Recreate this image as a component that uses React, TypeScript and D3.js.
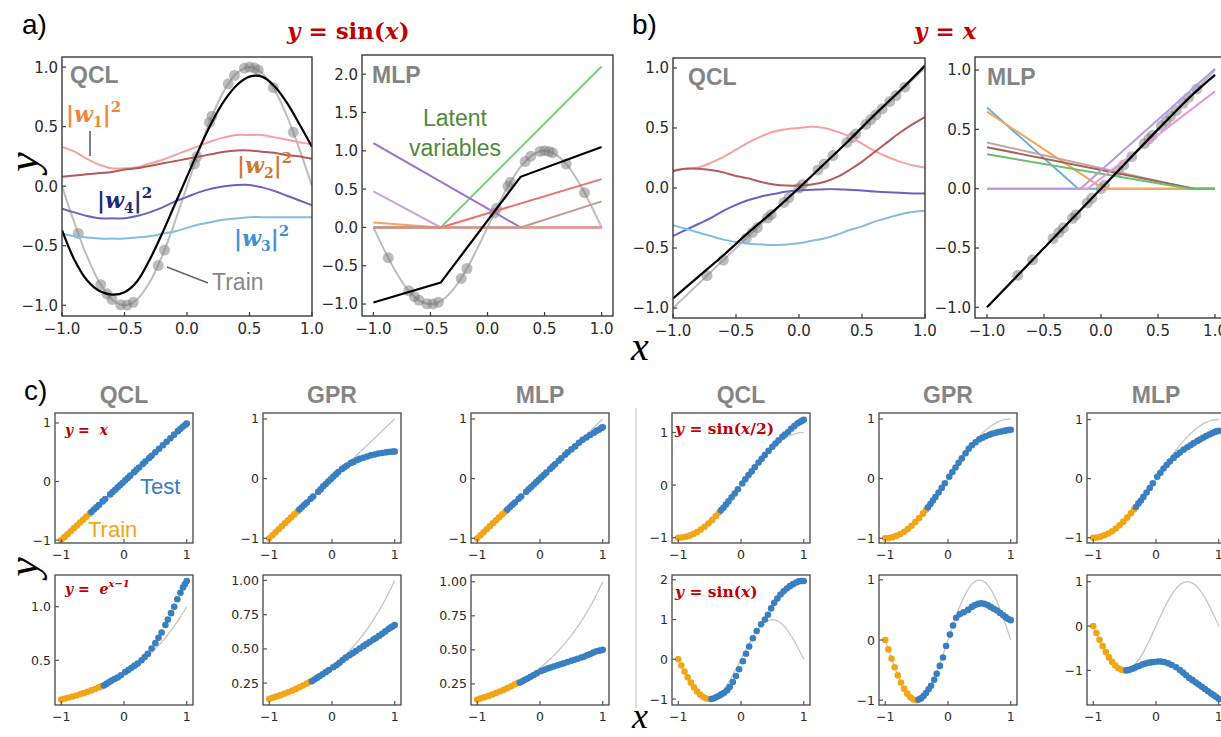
import React from "react";
import * as d3 from "d3";

// ---------- shared x grid for smooth curves ----------
const GRID = [-1, -0.9, -0.8, -0.7, -0.6, -0.5, -0.4, -0.3, -0.2, -0.1, 0, 0.1, 0.2, 0.3, 0.4, 0.5, 0.6, 0.7, 0.8, 0.9, 1];

// ---------- panel a: y = sin(x) ----------
const SIN_TRUE = [0, -0.309, -0.588, -0.809, -0.951, -1, -0.951, -0.809, -0.588, -0.309, 0, 0.309, 0.588, 0.809, 0.951, 1, 0.951, 0.809, 0.588, 0.309, 0];
const A_TRAIN_X = [-0.87, -0.69, -0.64, -0.6, -0.53, -0.48, -0.43, -0.23, -0.18, 0.06, 0.08, 0.18, 0.2, 0.33, 0.38, 0.46, 0.5, 0.54, 0.57, 0.69, 0.85];
const A_TRAIN_Y = [-0.397, -0.827, -0.904, -0.951, -0.996, -0.998, -0.975, -0.666, -0.536, 0.187, 0.249, 0.536, 0.588, 0.86, 0.93, 0.992, 1, 0.992, 0.976, 0.827, 0.454];
const A_QCL_FIT = [-0.37, -0.62, -0.79, -0.88, -0.91, -0.89, -0.8, -0.62, -0.4, -0.16, 0.08, 0.32, 0.54, 0.72, 0.85, 0.92, 0.92, 0.84, 0.7, 0.52, 0.33];
const A_QCL_W1 = [0.33, 0.29, 0.23, 0.18, 0.15, 0.15, 0.16, 0.19, 0.22, 0.26, 0.3, 0.34, 0.38, 0.41, 0.43, 0.43, 0.43, 0.41, 0.39, 0.37, 0.35];
const A_QCL_W2 = [0.08, 0.09, 0.1, 0.11, 0.12, 0.14, 0.15, 0.17, 0.19, 0.21, 0.23, 0.25, 0.27, 0.29, 0.3, 0.3, 0.29, 0.28, 0.26, 0.25, 0.23];
const A_QCL_W4 = [-0.19, -0.22, -0.25, -0.27, -0.27, -0.27, -0.25, -0.22, -0.18, -0.13, -0.09, -0.05, -0.02, 0, 0.01, 0.01, -0.01, -0.04, -0.08, -0.12, -0.16];
const A_QCL_W3 = [-0.4, -0.42, -0.43, -0.44, -0.44, -0.44, -0.43, -0.42, -0.4, -0.38, -0.35, -0.32, -0.3, -0.28, -0.27, -0.26, -0.26, -0.26, -0.26, -0.26, -0.26];

const A_MLP_FIT_X = [-1, -0.41, 0.29, 1];
const A_MLP_FIT_Y = [-0.98, -0.72, 0.66, 1.05];
const A_MLP_LATENT_X = [[-1, 1], [-1, -0.41, 1], [-1, 0.29, 1], [-1, -0.41, 1], [-1, -0.41, 1], [-1, -0.41, 1], [-1, 0.29, 1]];
const A_MLP_LATENT_Y = [[0, 0], [0, 0, 2.1], [1.1, 0, 0], [0.47, 0, 0], [0.065, 0, 0], [0, 0, 0.63], [0, 0, 0.34]];
const A_MLP_LATENT_COLORS = ["#c86a8a", "#7fcb7f", "#9b72d0", "#c8a2e6", "#f7a35c", "#ef6f6f", "#c49a92"];

// ---------- panel b: y = x ----------
const LIN_X = [-1, 1];
const LIN_Y = [-1, 1];
const B_TRAIN_X = [-0.73, -0.6, -0.42, -0.37, -0.33, -0.25, -0.22, -0.12, -0.08, 0, 0.03, 0.15, 0.2, 0.27, 0.38, 0.42, 0.45, 0.53, 0.57, 0.61, 0.66, 0.72, 0.77, 0.84];
const B_TRAIN_Y = [-0.73, -0.6, -0.42, -0.37, -0.33, -0.25, -0.22, -0.12, -0.08, 0, 0.03, 0.15, 0.2, 0.27, 0.38, 0.42, 0.45, 0.53, 0.57, 0.61, 0.66, 0.72, 0.77, 0.84];
const B_QCL_FIT_X = [-1, -0.8, -0.6, -0.4, -0.2, 0, 0.2, 0.4, 0.6, 0.8, 1];
const B_QCL_FIT_Y = [-0.92, -0.74, -0.56, -0.37, -0.19, 0, 0.2, 0.4, 0.61, 0.81, 1.02];
const B_QCL_W1 = [0.15, 0.16, 0.17, 0.21, 0.26, 0.32, 0.38, 0.43, 0.47, 0.49, 0.5, 0.51, 0.5, 0.47, 0.43, 0.37, 0.31, 0.26, 0.22, 0.19, 0.17];
const B_QCL_W2 = [0.14, 0.16, 0.16, 0.15, 0.13, 0.1, 0.08, 0.05, 0.03, 0.02, 0.02, 0.03, 0.05, 0.09, 0.15, 0.22, 0.3, 0.38, 0.46, 0.53, 0.59];
const B_QCL_W4 = [-0.4, -0.35, -0.3, -0.25, -0.19, -0.14, -0.1, -0.07, -0.05, -0.03, -0.02, -0.015, -0.01, -0.01, -0.015, -0.02, -0.03, -0.035, -0.04, -0.045, -0.045];
const B_QCL_W3 = [-0.31, -0.34, -0.37, -0.4, -0.43, -0.45, -0.465, -0.47, -0.475, -0.47, -0.46, -0.44, -0.42, -0.39, -0.35, -0.32, -0.28, -0.25, -0.22, -0.2, -0.19];

const B_MLP_FIT_X = [-1, 0, 0.5, 0.8, 1];
const B_MLP_FIT_Y = [-1, 0, 0.5, 0.79, 0.96];
const B_MLP_LATENT_X = [[-1, -0.2, 1], [-1, 0.02, 1], [-1, 0.8, 1], [-1, 0.82, 1], [-1, 0.78, 1], [-1, -0.12, 1], [-1, -0.18, 1]];
const B_MLP_LATENT_Y = [[0.685, 0, 0], [0.65, 0, 0], [0.39, 0, 0], [0.35, 0, 0], [0.29, 0, 0], [0, 0, 0.82], [0, 0, 1.01]];
const B_MLP_LATENT_COLORS = ["#6aaee0", "#f7a65a", "#c9a3a3", "#a0685a", "#6cbf6c", "#ec98d6", "#b898e8"];

// ---------- panel c: test functions ----------
const EXP_TRUE = [0.135, 0.15, 0.165, 0.183, 0.202, 0.223, 0.247, 0.273, 0.301, 0.333, 0.368, 0.407, 0.449, 0.497, 0.549, 0.607, 0.67, 0.741, 0.819, 0.905, 1.0];
const SINH_TRUE = [-1, -0.988, -0.951, -0.891, -0.809, -0.707, -0.588, -0.454, -0.309, -0.156, 0, 0.156, 0.309, 0.454, 0.588, 0.707, 0.809, 0.891, 0.951, 0.988, 1];

const TRAIN_X_LIN = [-1, -0.95, -0.9, -0.85, -0.8, -0.75, -0.7, -0.65, -0.6, -0.55];
const TRAIN_Y_LIN = [-1, -0.95, -0.9, -0.85, -0.8, -0.75, -0.7, -0.65, -0.6, -0.55];
const TEST_X_LIN = [-0.52, -0.48, -0.44, -0.4, -0.34, -0.3, -0.22, -0.18, -0.14, -0.1, -0.06, -0.02, 0.02, 0.06, 0.1, 0.16, 0.2, 0.24, 0.3, 0.34, 0.4, 0.44, 0.5, 0.56, 0.62, 0.68, 0.74, 0.8, 0.86, 0.9, 0.94, 0.98, 1.0];
const QCL_LIN = [-0.52, -0.48, -0.44, -0.4, -0.34, -0.3, -0.22, -0.18, -0.14, -0.1, -0.06, -0.02, 0.02, 0.06, 0.1, 0.16, 0.2, 0.24, 0.3, 0.34, 0.4, 0.44, 0.5, 0.56, 0.62, 0.68, 0.74, 0.8, 0.86, 0.9, 0.94, 0.97, 0.99];
const GPR_LIN = [-0.52, -0.48, -0.44, -0.4, -0.34, -0.3, -0.22, -0.18, -0.13, -0.09, -0.05, -0.01, 0.03, 0.07, 0.11, 0.16, 0.19, 0.22, 0.26, 0.28, 0.31, 0.33, 0.35, 0.37, 0.39, 0.405, 0.42, 0.43, 0.44, 0.445, 0.45, 0.455, 0.455];
const MLP_LIN = [-0.52, -0.48, -0.44, -0.4, -0.34, -0.3, -0.22, -0.18, -0.14, -0.1, -0.06, -0.02, 0.02, 0.06, 0.1, 0.16, 0.2, 0.24, 0.3, 0.34, 0.4, 0.44, 0.49, 0.54, 0.6, 0.65, 0.69, 0.73, 0.77, 0.8, 0.82, 0.85, 0.86];

const TRAIN_X_MID = [-1, -0.94, -0.88, -0.82, -0.76, -0.7, -0.64, -0.58, -0.52, -0.46, -0.4, -0.35];
const TRAIN_Y_EXP = [0.135, 0.144, 0.153, 0.162, 0.172, 0.183, 0.194, 0.206, 0.219, 0.232, 0.247, 0.259];
const TRAIN_Y_SINH = [-1, -0.996, -0.982, -0.96, -0.93, -0.891, -0.844, -0.79, -0.729, -0.661, -0.588, -0.522];
const TEST_X_MID = [-0.32, -0.28, -0.24, -0.2, -0.15, -0.1, -0.05, 0.02, 0.07, 0.12, 0.17, 0.22, 0.28, 0.33, 0.38, 0.44, 0.5, 0.55, 0.6, 0.66, 0.7, 0.75, 0.8, 0.85, 0.9, 0.94, 0.97, 1.0];
const QCL_EXP = [0.265, 0.28, 0.295, 0.31, 0.325, 0.34, 0.36, 0.39, 0.41, 0.43, 0.45, 0.47, 0.5, 0.53, 0.56, 0.61, 0.66, 0.71, 0.76, 0.83, 0.88, 0.94, 1.0, 1.07, 1.13, 1.18, 1.21, 1.24];
const GPR_EXP = [0.264, 0.276, 0.288, 0.3, 0.315, 0.33, 0.345, 0.366, 0.381, 0.398, 0.418, 0.436, 0.454, 0.469, 0.484, 0.502, 0.52, 0.535, 0.55, 0.568, 0.58, 0.595, 0.61, 0.628, 0.645, 0.657, 0.666, 0.675];
const MLP_EXP = [0.26, 0.27, 0.28, 0.29, 0.302, 0.315, 0.328, 0.344, 0.354, 0.363, 0.37, 0.378, 0.387, 0.394, 0.402, 0.411, 0.42, 0.427, 0.435, 0.444, 0.45, 0.46, 0.47, 0.48, 0.49, 0.494, 0.497, 0.5];
const QCL_SINH = [-0.48, -0.43, -0.37, -0.31, -0.23, -0.16, -0.08, 0.03, 0.11, 0.19, 0.26, 0.34, 0.43, 0.5, 0.57, 0.65, 0.73, 0.79, 0.85, 0.92, 0.96, 1.01, 1.07, 1.12, 1.17, 1.2, 1.22, 1.24];
const GPR_SINH = [-0.482, -0.426, -0.368, -0.309, -0.233, -0.156, -0.078, 0.031, 0.11, 0.187, 0.264, 0.339, 0.426, 0.5, 0.56, 0.61, 0.66, 0.685, 0.71, 0.735, 0.75, 0.765, 0.78, 0.79, 0.8, 0.81, 0.815, 0.82];
const MLP_SINH = [-0.48, -0.42, -0.37, -0.31, -0.235, -0.16, -0.08, 0.03, 0.1, 0.17, 0.23, 0.29, 0.35, 0.4, 0.44, 0.49, 0.53, 0.565, 0.6, 0.635, 0.66, 0.69, 0.72, 0.745, 0.77, 0.79, 0.8, 0.81];

const TRAIN_X_SIN = [-1, -0.95, -0.9, -0.85, -0.8, -0.75, -0.7, -0.65, -0.6, -0.55, -0.5];
const TRAIN_Y_SIN = [0, -0.156, -0.309, -0.454, -0.588, -0.707, -0.809, -0.891, -0.951, -0.988, -1];
const TEST_X_SIN = [-0.47, -0.43, -0.39, -0.35, -0.31, -0.27, -0.22, -0.18, -0.13, -0.08, -0.03, 0.03, 0.08, 0.13, 0.19, 0.25, 0.32, 0.38, 0.43, 0.48, 0.53, 0.58, 0.63, 0.68, 0.73, 0.78, 0.83, 0.88, 0.92, 0.96, 1.0];
const QCL_SIN = [-1.0, -0.98, -0.95, -0.92, -0.88, -0.84, -0.78, -0.7, -0.57, -0.42, -0.25, -0.05, 0.14, 0.32, 0.53, 0.71, 0.88, 1.0, 1.12, 1.28, 1.42, 1.53, 1.63, 1.71, 1.78, 1.84, 1.89, 1.93, 1.96, 1.97, 1.97];
const GPR_SIN = [-0.99, -0.97, -0.93, -0.88, -0.82, -0.76, -0.66, -0.56, -0.43, -0.29, -0.1, 0.09, 0.24, 0.37, 0.43, 0.46, 0.5, 0.55, 0.58, 0.6, 0.61, 0.6, 0.58, 0.55, 0.52, 0.49, 0.45, 0.41, 0.38, 0.35, 0.33];
const MLP_SIN = [-1.0, -0.99, -0.97, -0.95, -0.92, -0.9, -0.87, -0.85, -0.83, -0.82, -0.81, -0.8, -0.8, -0.81, -0.84, -0.88, -0.93, -0.99, -1.05, -1.11, -1.17, -1.22, -1.27, -1.32, -1.37, -1.42, -1.47, -1.52, -1.56, -1.6, -1.64];

const MODELS = ["QCL", "GPR", "MLP", "QCL", "GPR", "MLP"];

// ---------- styles ----------
const RED = "#c00000";
const GRAY_TXT = "#858585";
const BLUE = "#3a7fc1";
const ORANGE = "#f2a516";
const TICK_FONT = "DejaVu Sans, sans-serif";
const SANS = "Liberation Sans, Arial, sans-serif";
const SERIF = "DejaVu Serif, Liberation Serif, serif";
const SERIF_BIG = "Liberation Serif, DejaVu Serif, serif";

type Scale = d3.ScaleLinear<number, number>;

function pathOf(xs: number[], ys: number[], sx: Scale, sy: Scale, smooth = false) {
  const gen = d3.line<number>().x((v) => sx(v)).y((_, i) => sy(ys[i]));
  if (smooth) gen.curve(d3.curveCatmullRom.alpha(0.5));
  return gen(xs) ?? "";
}

interface AxesProps {
  id: string;
  left: number;
  top: number;
  width: number;
  height: number;
  xDomain: [number, number];
  yDomain: [number, number];
  xTicks: number[];
  yTicks: number[];
  xFmt: (v: number) => string;
  yFmt: (v: number) => string;
  fontSize: number;
  frame?: string;
  children: (x: Scale, y: Scale) => React.ReactNode;
}

function Axes(p: AxesProps) {
  const x = d3.scaleLinear().domain(p.xDomain).range([p.left, p.left + p.width]);
  const y = d3.scaleLinear().domain(p.yDomain).range([p.top + p.height, p.top]);
  const bottom = p.top + p.height;
  const stroke = p.frame ?? "#3a3a3a";
  return (
    <g>
      <defs>
        <clipPath id={p.id}>
          <rect x={p.left} y={p.top} width={p.width} height={p.height} />
        </clipPath>
      </defs>
      <g clipPath={`url(#${p.id})`}>{p.children(x, y)}</g>
      <rect x={p.left} y={p.top} width={p.width} height={p.height} fill="none" stroke={stroke} strokeWidth={1.4} />
      {p.yTicks.map((t) => (
        <g key={"y" + t}>
          <line x1={p.left} x2={p.left + 4} y1={y(t)} y2={y(t)} stroke={stroke} strokeWidth={1.2} />
          <text x={p.left - 4} y={y(t)} dy="0.36em" textAnchor="end" fontFamily={TICK_FONT} fontSize={p.fontSize} fill="#2a2a2a">
            {p.yFmt(t)}
          </text>
        </g>
      ))}
      {p.xTicks.map((t) => (
        <g key={"x" + t}>
          <line x1={x(t)} x2={x(t)} y1={bottom} y2={bottom - 4} stroke={stroke} strokeWidth={1.2} />
          <text x={x(t)} y={bottom + p.fontSize + 3} textAnchor="middle" fontFamily={TICK_FONT} fontSize={p.fontSize} fill="#2a2a2a">
            {p.xFmt(t)}
          </text>
        </g>
      ))}
    </g>
  );
}

function WLabel({ x, y, idx, color }: { x: number; y: number; idx: string; color: string }) {
  return (
    <text x={x} y={y} fill={color} fontFamily={SERIF} fontWeight="bold" fontSize={22}>
      |<tspan fontStyle="italic">w</tspan>
      <tspan fontSize={14} dy={5}>{idx}</tspan>
      <tspan dy={-5}>|</tspan>
      <tspan fontSize={15} dy={-10}>2</tspan>
    </text>
  );
}

function Dots({ xs, ys, sx, sy, color, r = 5.5, opacity = 1 }: { xs: number[]; ys: number[]; sx: Scale; sy: Scale; color: string; r?: number; opacity?: number }) {
  return (
    <g>
      {xs.map((v, i) => (
        <circle key={i} cx={sx(v)} cy={sy(ys[i])} r={r} fill={color} fillOpacity={opacity} />
      ))}
    </g>
  );
}

const f1 = d3.format(".1f");
const f2 = d3.format(".2f");
const fd = d3.format("d");

// layout for panel c
const C_LEFT = [55, 263, 471, 672, 879, 1087];
const C_TOP = [413, 575];
const C_W = 138;
const C_H = 130;

interface SmallSpec {
  col: number;
  row: number;
  yDomain: [number, number];
  yTicks: number[];
  yFmt: (v: number) => string;
  trueX: number[];
  trueY: number[];
  trainX: number[];
  trainY: number[];
  testX: number[];
  testY: number[];
}

const SMALL: SmallSpec[] = [
  { col: 0, row: 0, yDomain: [-1.05, 1.17], yTicks: [-1, 0, 1], yFmt: fd, trueX: LIN_X, trueY: LIN_Y, trainX: TRAIN_X_LIN, trainY: TRAIN_Y_LIN, testX: TEST_X_LIN, testY: QCL_LIN },
  { col: 1, row: 0, yDomain: [-1.08, 1.1], yTicks: [-1, 0, 1], yFmt: fd, trueX: LIN_X, trueY: LIN_Y, trainX: TRAIN_X_LIN, trainY: TRAIN_Y_LIN, testX: TEST_X_LIN, testY: GPR_LIN },
  { col: 2, row: 0, yDomain: [-1.08, 1.1], yTicks: [-1, 0, 1], yFmt: fd, trueX: LIN_X, trueY: LIN_Y, trainX: TRAIN_X_LIN, trainY: TRAIN_Y_LIN, testX: TEST_X_LIN, testY: MLP_LIN },
  { col: 0, row: 1, yDomain: [0.083, 1.296], yTicks: [0.5, 1.0], yFmt: f1, trueX: GRID, trueY: EXP_TRUE, trainX: TRAIN_X_MID, trainY: TRAIN_Y_EXP, testX: TEST_X_MID, testY: QCL_EXP },
  { col: 1, row: 1, yDomain: [0.09, 1.04], yTicks: [0.25, 0.5, 0.75, 1.0], yFmt: f2, trueX: GRID, trueY: EXP_TRUE, trainX: TRAIN_X_MID, trainY: TRAIN_Y_EXP, testX: TEST_X_MID, testY: GPR_EXP },
  { col: 2, row: 1, yDomain: [0.095, 1.05], yTicks: [0.25, 0.5, 0.75, 1.0], yFmt: f2, trueX: GRID, trueY: EXP_TRUE, trainX: TRAIN_X_MID, trainY: TRAIN_Y_EXP, testX: TEST_X_MID, testY: MLP_EXP },
  { col: 3, row: 0, yDomain: [-1.1, 1.37], yTicks: [-1, 0, 1], yFmt: fd, trueX: GRID, trueY: SINH_TRUE, trainX: TRAIN_X_MID, trainY: TRAIN_Y_SINH, testX: TEST_X_MID, testY: QCL_SINH },
  { col: 4, row: 0, yDomain: [-1.08, 1.1], yTicks: [-1, 0, 1], yFmt: fd, trueX: GRID, trueY: SINH_TRUE, trainX: TRAIN_X_MID, trainY: TRAIN_Y_SINH, testX: TEST_X_MID, testY: GPR_SINH },
  { col: 5, row: 0, yDomain: [-1.09, 1.11], yTicks: [-1, 0, 1], yFmt: fd, trueX: GRID, trueY: SINH_TRUE, trainX: TRAIN_X_MID, trainY: TRAIN_Y_SINH, testX: TEST_X_MID, testY: MLP_SINH },
  { col: 3, row: 1, yDomain: [-1.15, 2.12], yTicks: [-1, 0, 1, 2], yFmt: fd, trueX: GRID, trueY: SIN_TRUE, trainX: TRAIN_X_SIN, trainY: TRAIN_Y_SIN, testX: TEST_X_SIN, testY: QCL_SIN },
  { col: 4, row: 1, yDomain: [-1.08, 1.08], yTicks: [-1, 0, 1], yFmt: fd, trueX: GRID, trueY: SIN_TRUE, trainX: TRAIN_X_SIN, trainY: TRAIN_Y_SIN, testX: TEST_X_SIN, testY: GPR_SIN },
  { col: 5, row: 1, yDomain: [-1.78, 1.15], yTicks: [-1, 0, 1], yFmt: fd, trueX: GRID, trueY: SIN_TRUE, trainX: TRAIN_X_SIN, trainY: TRAIN_Y_SIN, testX: TEST_X_SIN, testY: MLP_SIN },
];

export default function App() {
  return (
    <svg width={1221} height={737} style={{ position: "absolute", left: 0, top: 0, background: "#fff" }}>
      {/* panel labels */}
      <text x={22} y={34} fontFamily={SANS} fontSize={28}>a)</text>
      <text x={632} y={34} fontFamily={SANS} fontSize={28}>b)</text>
      <text x={24} y={400} fontFamily={SANS} fontSize={28}>c)</text>

      <text x={287} y={39} fill={RED} fontFamily={SERIF} fontWeight="bold" fontSize={23}>
        <tspan fontStyle="italic">y</tspan> = sin(<tspan fontStyle="italic">x</tspan>)
      </text>
      <text x={914} y={39} fill={RED} fontFamily={SERIF} fontWeight="bold" fontSize={23}>
        <tspan fontStyle="italic">y</tspan> = <tspan fontStyle="italic">x</tspan>
      </text>

      <text transform="translate(38,162) rotate(-90)" textAnchor="middle" fontFamily={SERIF_BIG} fontStyle="italic" fontSize={44}>y</text>
      <text transform="translate(38,567) rotate(-90)" textAnchor="middle" fontFamily={SERIF_BIG} fontStyle="italic" fontSize={44}>y</text>
      <text x={640} y={360} textAnchor="middle" fontFamily={SERIF_BIG} fontStyle="italic" fontSize={40}>x</text>
      <text x={640} y={728} textAnchor="middle" fontFamily={SERIF_BIG} fontStyle="italic" fontSize={36}>x</text>

      {/* a) QCL */}
      <Axes id="aq" left={62} top={57} width={250} height={259} xDomain={[-1, 1]} yDomain={[-1.09, 1.085]}
        xTicks={[-1, -0.5, 0, 0.5, 1]} yTicks={[-1, -0.5, 0, 0.5, 1]} xFmt={f1} yFmt={f1} fontSize={15}>
        {(x, y) => (
          <g fill="none">
            <path d={pathOf(GRID, SIN_TRUE, x, y, true)} stroke="#bdbdbd" strokeWidth={2} />
            <Dots xs={A_TRAIN_X} ys={A_TRAIN_Y} sx={x} sy={y} color="#7a7a7a" opacity={0.5} />
            <path d={pathOf(GRID, A_QCL_W1, x, y, true)} stroke="#f6a3a0" strokeWidth={2} />
            <path d={pathOf(GRID, A_QCL_W2, x, y, true)} stroke="#b55a5a" strokeWidth={2} />
            <path d={pathOf(GRID, A_QCL_W4, x, y, true)} stroke="#6a62c4" strokeWidth={2} />
            <path d={pathOf(GRID, A_QCL_W3, x, y, true)} stroke="#82bde6" strokeWidth={2} />
            <path d={pathOf(GRID, A_QCL_FIT, x, y, true)} stroke="#000" strokeWidth={2.2} />
          </g>
        )}
      </Axes>
      <text x={70} y={83} fontFamily={SANS} fontWeight="bold" fontSize={23} fill={GRAY_TXT}>QCL</text>
      <WLabel x={66} y={122} idx="1" color="#f0853a" />
      <line x1={90} y1={131} x2={90} y2={156} stroke="#555" strokeWidth={1.5} />
      <WLabel x={237} y={173} idx="2" color="#d0782e" />
      <WLabel x={97} y={208} idx="4" color="#1c2a7a" />
      <WLabel x={234} y={246} idx="3" color="#3f8fd4" />
      <line x1={167} y1={267} x2={208} y2={283} stroke="#666" strokeWidth={1.5} />
      <text x={212} y={290} fontFamily={SANS} fontSize={23} fill="#888">Train</text>

      {/* a) MLP */}
      <Axes id="am" left={362} top={55} width={251} height={261} xDomain={[-1.1, 1.1]} yDomain={[-1.156, 2.25]}
        xTicks={[-1, -0.5, 0, 0.5, 1]} yTicks={[-1, -0.5, 0, 0.5, 1, 1.5, 2]} xFmt={f1} yFmt={f1} fontSize={15}>
        {(x, y) => (
          <g fill="none">
            <path d={pathOf(GRID, SIN_TRUE, x, y, true)} stroke="#bdbdbd" strokeWidth={2} />
            <Dots xs={A_TRAIN_X} ys={A_TRAIN_Y} sx={x} sy={y} color="#7a7a7a" opacity={0.5} />
            {A_MLP_LATENT_X.map((xs, i) => (
              <path key={i} d={pathOf(xs, A_MLP_LATENT_Y[i], x, y)} stroke={A_MLP_LATENT_COLORS[i]} strokeWidth={2} />
            ))}
            <path d={pathOf(A_MLP_FIT_X, A_MLP_FIT_Y, x, y)} stroke="#000" strokeWidth={2.2} />
          </g>
        )}
      </Axes>
      <text x={372} y={83} fontFamily={SANS} fontWeight="bold" fontSize={23} fill={GRAY_TXT}>MLP</text>
      <text x={455} y={126} textAnchor="middle" fontFamily={SANS} fontSize={23} fill="#4f8a3a">Latent</text>
      <text x={455} y={156} textAnchor="middle" fontFamily={SANS} fontSize={23} fill="#4f8a3a">variables</text>

      {/* b) QCL */}
      <Axes id="bq" left={673} top={58} width={252} height={260} xDomain={[-1, 1]} yDomain={[-1.083, 1.083]}
        xTicks={[-1, -0.5, 0, 0.5, 1]} yTicks={[-1, -0.5, 0, 0.5, 1]} xFmt={f1} yFmt={f1} fontSize={15}>
        {(x, y) => (
          <g fill="none">
            <path d={pathOf(LIN_X, LIN_Y, x, y)} stroke="#bdbdbd" strokeWidth={2} />
            <Dots xs={B_TRAIN_X} ys={B_TRAIN_Y} sx={x} sy={y} color="#7a7a7a" opacity={0.5} />
            <path d={pathOf(GRID, B_QCL_W1, x, y, true)} stroke="#f6a3a0" strokeWidth={2} />
            <path d={pathOf(GRID, B_QCL_W2, x, y, true)} stroke="#b55a5a" strokeWidth={2} />
            <path d={pathOf(GRID, B_QCL_W4, x, y, true)} stroke="#6a62c4" strokeWidth={2} />
            <path d={pathOf(GRID, B_QCL_W3, x, y, true)} stroke="#82bde6" strokeWidth={2} />
            <path d={pathOf(B_QCL_FIT_X, B_QCL_FIT_Y, x, y, true)} stroke="#000" strokeWidth={2.2} />
          </g>
        )}
      </Axes>
      <text x={688} y={85} fontFamily={SANS} fontWeight="bold" fontSize={23} fill={GRAY_TXT}>QCL</text>

      {/* b) MLP */}
      <Axes id="bm" left={975} top={57} width={252} height={261} xDomain={[-1.105, 1.105]} yDomain={[-1.09, 1.11]}
        xTicks={[-1, -0.5, 0, 0.5, 1]} yTicks={[-1, -0.5, 0, 0.5, 1]} xFmt={f1} yFmt={f1} fontSize={15}>
        {(x, y) => (
          <g fill="none">
            <path d={pathOf(LIN_X, LIN_Y, x, y)} stroke="#bdbdbd" strokeWidth={2} />
            <Dots xs={B_TRAIN_X} ys={B_TRAIN_Y} sx={x} sy={y} color="#7a7a7a" opacity={0.5} />
            {B_MLP_LATENT_X.map((xs, i) => (
              <path key={i} d={pathOf(xs, B_MLP_LATENT_Y[i], x, y)} stroke={B_MLP_LATENT_COLORS[i]} strokeWidth={2} />
            ))}
            <path d={pathOf(B_MLP_FIT_X, B_MLP_FIT_Y, x, y, true)} stroke="#000" strokeWidth={2.2} />
          </g>
        )}
      </Axes>
      <text x={987} y={85} fontFamily={SANS} fontWeight="bold" fontSize={23} fill={GRAY_TXT}>MLP</text>

      {/* c) titles */}
      {MODELS.map((m, i) => (
        <text key={i} x={C_LEFT[i] + C_W / 2} y={403} textAnchor="middle" fontFamily={SANS} fontWeight="bold" fontSize={23} fill={GRAY_TXT}>
          {m}
        </text>
      ))}
      <line x1={636} x2={636} y1={408} y2={708} stroke="#c4c4c4" strokeWidth={1.2} />

      {SMALL.map((s, i) => (
        <Axes key={i} id={"c" + i} left={C_LEFT[s.col]} top={C_TOP[s.row]} width={C_W} height={C_H}
          xDomain={[-1.1, 1.1]} yDomain={s.yDomain} xTicks={[-1, 0, 1]} yTicks={s.yTicks}
          xFmt={fd} yFmt={s.yFmt} fontSize={12.5} frame="#555">
          {(x, y) => (
            <g>
              <path d={pathOf(s.trueX, s.trueY, x, y, true)} fill="none" stroke="#c6c6c6" strokeWidth={1.3} />
              <Dots xs={s.trainX} ys={s.trainY} sx={x} sy={y} color={ORANGE} r={3.3} />
              <Dots xs={s.testX} ys={s.testY} sx={x} sy={y} color={BLUE} r={3.3} />
            </g>
          )}
        </Axes>
      ))}

      {/* c) annotations */}
      <text x={65} y={435} fill={RED} fontFamily={SERIF} fontWeight="bold" fontSize={14} style={{ whiteSpace: "pre" }}>
        <tspan fontStyle="italic">y</tspan>{" =  "}<tspan fontStyle="italic">x</tspan>
      </text>
      <text x={65} y={594} fill={RED} fontFamily={SERIF} fontWeight="bold" fontSize={14} style={{ whiteSpace: "pre" }}>
        <tspan fontStyle="italic">y</tspan>{" =  "}<tspan fontStyle="italic">e</tspan>
        <tspan fontStyle="italic" fontSize={10} dy={-7}>x−1</tspan>
      </text>
      <text x={675} y={434} fill={RED} fontFamily={SERIF} fontWeight="bold" fontSize={15.5}>
        <tspan fontStyle="italic">y</tspan> = sin(<tspan fontStyle="italic">x</tspan>/2)
      </text>
      <text x={675} y={597} fill={RED} fontFamily={SERIF} fontWeight="bold" fontSize={15.5}>
        <tspan fontStyle="italic">y</tspan> = sin(<tspan fontStyle="italic">x</tspan>)
      </text>
      <text x={140} y={494} fontFamily={SANS} fontSize={22} fill={BLUE}>Test</text>
      <text x={88} y={537} fontFamily={SANS} fontSize={22} fill={ORANGE}>Train</text>
    </svg>
  );
}
